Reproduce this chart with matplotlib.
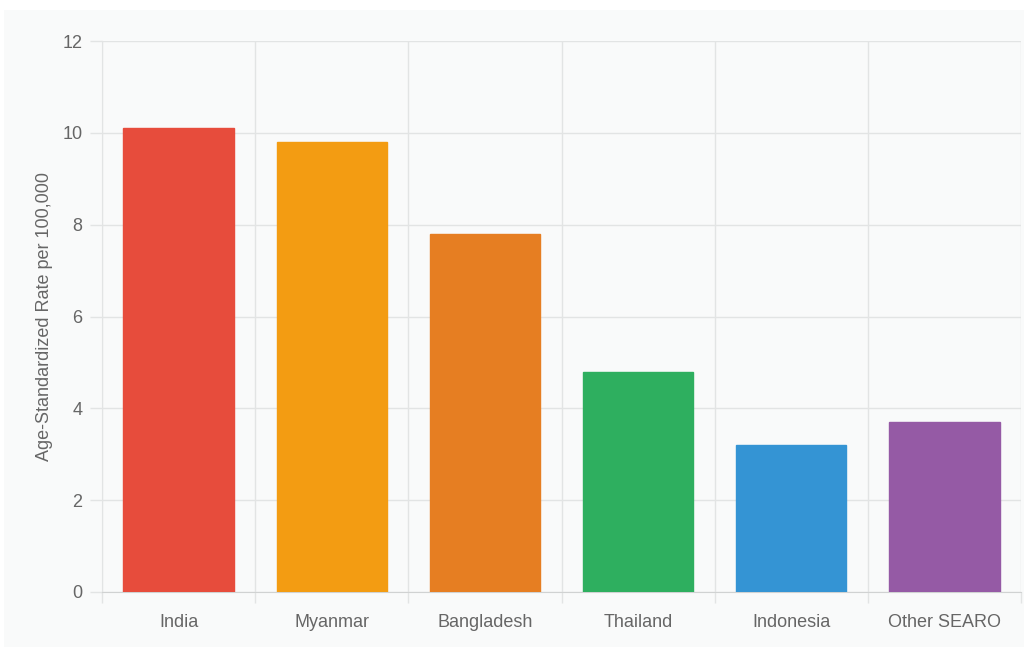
import matplotlib.pyplot as plt
import numpy as np
from matplotlib.patches import Rectangle

plt.rcParams['font.family'] = ['Liberation Sans', 'DejaVu Sans']

# data
countries = ['India', 'Myanmar', 'Bangladesh', 'Thailand', 'Indonesia', 'Other SEARO']
rates = [10.1, 9.8, 7.8, 4.8, 3.2, 3.7]
colors = ['#e74c3c', '#f39c12', '#e67e22', '#2eaf5f', '#3494d4', '#955aa5']

fig = plt.figure(figsize=(10.24, 6.47), dpi=100, facecolor='white')
# light card behind the chart
fig.patches.append(Rectangle((4/1024, 0), 1 - 4/1024, 1 - 10/647,
                             transform=fig.transFigure, facecolor='#f9fafa',
                             edgecolor='none', zorder=-10))
ax = fig.add_axes([102/1024, 1 - 592/647, 919/1024, 551/647])
ax.set_facecolor('#f9fafa')

x = np.arange(len(countries))
ax.bar(x, rates, width=0.72, color=colors, edgecolor=colors, linewidth=1, zorder=3)

ax.set_xlim(-0.5, len(countries) - 0.5)
ax.set_ylim(0, 12)
ax.set_yticks(np.arange(0, 13, 2))
ax.set_xticks(x)
ax.set_xticklabels(countries)
ax.set_xticks(np.arange(-0.5, len(countries)), minor=True)

ax.grid(axis='y', color='#e2e4e4', linewidth=1, zorder=0)
ax.grid(axis='x', which='minor', color='#e2e4e4', linewidth=1, zorder=0)
ax.tick_params(axis='x', which='major', length=0, pad=16, labelsize=13, labelcolor='#666666')
ax.tick_params(axis='x', which='minor', length=8, color='#e2e4e4', width=1)
ax.tick_params(axis='y', length=9, color='#e2e4e4', width=1, pad=5,
               labelsize=13, labelcolor='#666666')

for side in ['top', 'right']:
    ax.spines[side].set_visible(False)
ax.spines['left'].set_color('#e2e4e4')
ax.spines['bottom'].set_color('#d0d2d2')

ax.set_ylabel('Age-Standardized Rate per 100,000', fontsize=13, color='#666666', labelpad=7)

plt.savefig('out.png', dpi=100, facecolor=fig.get_facecolor())
